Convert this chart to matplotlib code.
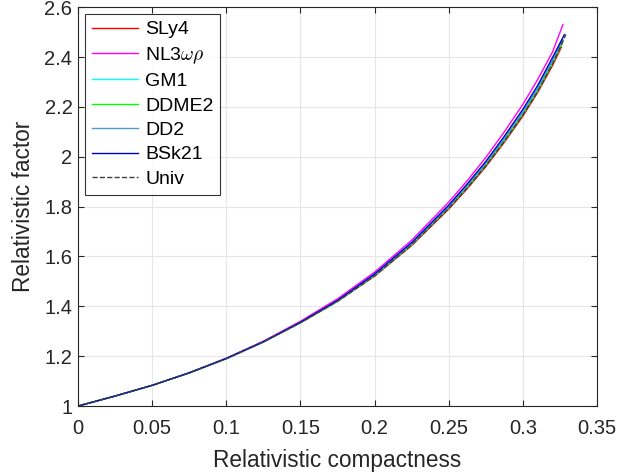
import matplotlib
matplotlib.use('Agg')
from matplotlib import pyplot as plt

plt.rcParams['font.family'] = ['Liberation Sans', 'DejaVu Sans']
plt.rcParams['mathtext.fontset'] = 'cm'

# compactness grid shared by the EOS curves (last point = end of each branch)
compact = [0.0, 0.025, 0.05, 0.075, 0.1, 0.125, 0.15, 0.175, 0.2, 0.225, 0.25,
           0.2625, 0.275, 0.2875, 0.3, 0.31, 0.32]

sly4 = [1.0, 1.04, 1.083, 1.133, 1.19, 1.257, 1.334, 1.42, 1.521, 1.644, 1.79,
        1.872, 1.96, 2.058, 2.163, 2.258, 2.366]
sly4_end = (0.326, 2.44)
nl3wr = [1.0, 1.04, 1.083, 1.134, 1.192, 1.26, 1.34, 1.43, 1.537, 1.665, 1.818,
         1.904, 1.997, 2.1, 2.21, 2.31, 2.42]
nl3wr_end = (0.327, 2.53)
gm1 = [1.0, 1.04, 1.083, 1.133, 1.19, 1.257, 1.335, 1.421, 1.525, 1.65, 1.798,
       1.881, 1.97, 2.069, 2.175, 2.27, 2.38]
gm1_end = (0.325, 2.44)
ddme2 = [1.0, 1.04, 1.083, 1.133, 1.19, 1.257, 1.334, 1.42, 1.523, 1.647, 1.795,
         1.877, 1.966, 2.064, 2.17, 2.265, 2.375]
ddme2_end = (0.327, 2.46)
dd2 = [1.0, 1.04, 1.083, 1.133, 1.19, 1.257, 1.335, 1.421, 1.526, 1.651, 1.8,
       1.884, 1.973, 2.073, 2.18, 2.276, 2.387]
dd2_end = (0.327, 2.47)
bsk21 = [1.0, 1.04, 1.083, 1.133, 1.191, 1.258, 1.336, 1.424, 1.53, 1.656, 1.806,
         1.891, 1.981, 2.082, 2.19, 2.286, 2.398]
bsk21_end = (0.328, 2.49)
univ = [1.0, 1.04, 1.083, 1.133, 1.19, 1.257, 1.334, 1.42, 1.522, 1.646, 1.793,
        1.875, 1.964, 2.062, 2.168, 2.262, 2.372]
univ_end = (0.329, 2.49)

series = [
    ('SLy4', sly4, sly4_end, (1, 0, 0), '-'),
    (r'NL3$\omega\rho$', nl3wr, nl3wr_end, (1, 0, 1), '-'),
    ('GM1', gm1, gm1_end, (0, 1, 1), '-'),
    ('DDME2', ddme2, ddme2_end, (0, 1, 0), '-'),
    ('DD2', dd2, dd2_end, (0.3, 0.6, 0.85), '-'),
    ('BSk21', bsk21, bsk21_end, (0, 0, 0.75), '-'),
    ('Univ', univ, univ_end, (0.25, 0.25, 0.25), '--'),
]

fig = plt.figure(figsize=(6.41, 4.76), dpi=100)
ax = fig.add_axes([0.1217, 0.147, 0.8097, 0.838])

for name, vals, end, col, ls in series:
    xs = compact + [end[0]]
    ys = vals + [end[1]]
    ax.plot(xs, ys, color=col, linestyle=ls, linewidth=1.0, label=name)

ax.set_xlim(0, 0.35)
ax.set_ylim(1, 2.6)
ax.set_xticks([0, 0.05, 0.1, 0.15, 0.2, 0.25, 0.3, 0.35])
ax.set_xticklabels(['0', '0.05', '0.1', '0.15', '0.2', '0.25', '0.3', '0.35'])
ax.set_yticks([1, 1.2, 1.4, 1.6, 1.8, 2, 2.2, 2.4, 2.6])
ax.set_yticklabels(['1', '1.2', '1.4', '1.6', '1.8', '2', '2.2', '2.4', '2.6'])
ax.grid(True, color=(0.9, 0.9, 0.9), linewidth=0.8)
ax.set_axisbelow(True)
ax.tick_params(direction='in', top=True, right=True, labelsize=14.5,
               colors=(0.15, 0.15, 0.15), length=4)
ax.tick_params(axis='x', pad=9.5)
ax.tick_params(axis='y', pad=4)
for sp in ax.spines.values():
    sp.set_color((0.15, 0.15, 0.15))
ax.set_xlabel('Relativistic compactness', fontsize=16.3, color=(0.15, 0.15, 0.15), labelpad=7.5)
ax.set_ylabel('Relativistic factor', fontsize=16.3, color=(0.15, 0.15, 0.15), labelpad=6.5)

leg = ax.legend(loc='upper left', fontsize=14, frameon=True, fancybox=False,
                edgecolor='black', handlelength=2.4, borderaxespad=0.35,
                labelspacing=0.35, handletextpad=0.35, borderpad=0.35)
leg.get_frame().set_linewidth(0.8)

fig.savefig('out.png', dpi=100)
